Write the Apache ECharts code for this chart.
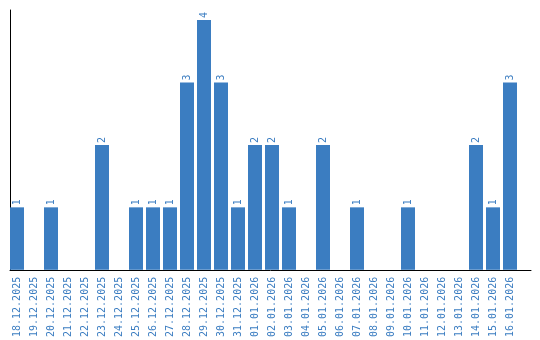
<!DOCTYPE html>
<html><head><meta charset="utf-8">
<script src="https://cdn.jsdelivr.net/npm/echarts@6/dist/echarts.min.js"></script>
<style>html,body{margin:0;padding:0;background:#fff}#c{width:540px;height:340px}</style>
</head><body><div id="c"></div>
<script>
var categories = ["18.12.2025","19.12.2025","20.12.2025","21.12.2025","22.12.2025","23.12.2025","24.12.2025","25.12.2025","26.12.2025","27.12.2025","28.12.2025","29.12.2025","30.12.2025","31.12.2025","01.01.2026","02.01.2026","03.01.2026","04.01.2026","05.01.2026","06.01.2026","07.01.2026","08.01.2026","09.01.2026","10.01.2026","11.01.2026","12.01.2026","13.01.2026","14.01.2026","15.01.2026","16.01.2026"];
var values = [1,0,1,0,0,2,0,1,1,1,3,4,3,1,2,2,1,0,2,0,1,0,0,1,0,0,0,2,1,3];
var chart = echarts.init(document.getElementById('c'), null, {renderer:'canvas'});
var blue = '#3b7dc1';
chart.setOption({
  animation:false,
  grid:[
    {left:8.5,right:21.5,top:10,bottom:70,containLabel:false},
    {left:10,right:9,top:10,bottom:70,containLabel:false}
  ],
  xAxis:[
    {type:'category',data:categories,gridIndex:0,
      axisLine:{show:false},
      axisTick:{show:false},
      axisLabel:{rotate:90,interval:0,margin:7,color:blue,fontFamily:'DejaVu Sans Mono',fontSize:10}},
    {type:'value',gridIndex:1,min:0,max:1,
      axisLine:{show:true,onZero:false,lineStyle:{color:'#000',width:1}},
      axisTick:{show:false},axisLabel:{show:false},splitLine:{show:false}}
  ],
  yAxis:[
    {type:'value',gridIndex:0,min:0,max:4.16,
      axisLine:{show:false},
      axisTick:{show:false},axisLabel:{show:false},splitLine:{show:false}},
    {type:'value',gridIndex:1,min:0,max:1,
      axisLine:{show:true,onZero:false,lineStyle:{color:'#000',width:1}},
      axisTick:{show:false},axisLabel:{show:false},splitLine:{show:false}}
  ],
  series:[{type:'bar',xAxisIndex:0,yAxisIndex:0,
    data:values.map(function(v){return v===0?{value:v,label:{show:false}}:v;}),
    barWidth:14,
    itemStyle:{color:blue},
    label:{show:true,position:'top',rotate:90,align:'left',verticalAlign:'middle',distance:2,
      color:blue,fontFamily:'DejaVu Sans Mono',fontSize:10}},
    {type:'line',xAxisIndex:1,yAxisIndex:1,data:[],silent:true}]
});
</script></body></html>
